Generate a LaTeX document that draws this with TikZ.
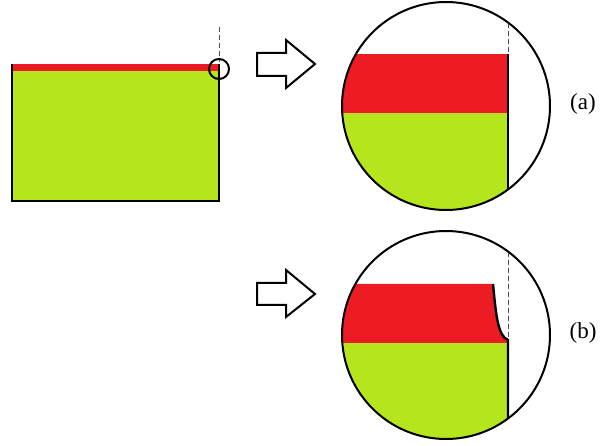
\documentclass[tikz,border=0pt]{standalone}
\usepackage{fontspec}
\setmainfont{Liberation Serif}
\definecolor{myred}{HTML}{ED1C24}
\definecolor{mygreen}{HTML}{B5E61D}
\begin{document}
\begin{tikzpicture}[x=1pt,y=-1pt,
  edge/.style={line width=2.4pt,black},
  ring/.style={line width=2pt,black},
  guide/.style={line width=0.8pt,gray!60!black,dash pattern=on 5pt off 3pt},
  blockarrow/.style={line width=2pt,black,fill=white,line join=miter},
  lbl/.style={font=\fontsize{23}{26}\selectfont,inner sep=0pt}]
\useasboundingbox (0,0) rectangle (600,446);
% left block
\fill[mygreen] (12,64) rectangle (219,201);
\fill[myred] (12,64) rectangle (219,71);
\draw[edge] (12,64) -- (12,201) -- (219,201) -- (219,64);
\draw[guide] (219,27) -- (219,62);
\draw[ring] (219,69) circle (10);
% arrows
\draw[blockarrow] (257,53) -- (286,53) -- (286,40) -- (315,64) -- (286,88) -- (286,76) -- (257,76) -- cycle;
\draw[blockarrow] (257,283) -- (286,283) -- (286,270) -- (315,294) -- (286,317) -- (286,305) -- (257,305) -- cycle;
% circle (a)
\begin{scope}
\clip (446,106) circle (104);
\fill[myred] (330,54) rectangle (508,113);
\fill[mygreen] (330,113) rectangle (508,220);
\end{scope}
\draw[guide] (508,23) -- (508,53);
\draw[edge] (508,54) -- (508,189);
\draw[ring] (446,106) circle (104);
\node[lbl] (la) at (583,104) {(a)};
% circle (b)
\begin{scope}
\clip (446,335) circle (104);
\fill[myred] (330,284) -- (493,284) .. controls (496,316) and (498,336) .. (508,340) -- (508,343) -- (330,343) -- cycle;
\fill[mygreen] (330,343) rectangle (508,450);
\end{scope}
\draw[guide] (508,252) -- (508,338);
\draw[edge] (493,284) .. controls (496,316) and (498,336) .. (508,340) -- (508,418);
\draw[ring] (446,335) circle (104);
\node[lbl] (lb) at (583,333) {(b)};
\end{tikzpicture}
\end{document}
